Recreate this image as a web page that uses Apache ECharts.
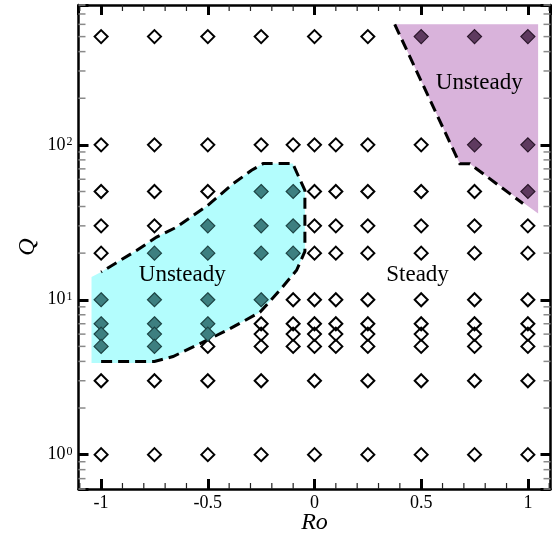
<!DOCTYPE html>
<html>
<head>
<meta charset="utf-8">
<script src="https://cdn.jsdelivr.net/npm/echarts@6/dist/echarts.min.js"></script>
<style>html,body{margin:0;padding:0;background:#fff}#c{width:556px;height:540px}</style>
</head>
<body>
<div id="c"></div>
<script>
// ---------- data ----------
const xTickLabels = ['-1', '-0.5', '0', '0.5', '1'];
const steadyPoints = [
  [-1,500],[-1,100],[-1,50],[-1,30],[-1,20],[-1,3],[-1,1],
  [-0.75,500],[-0.75,100],[-0.75,50],[-0.75,30],[-0.75,3],[-0.75,1],
  [-0.5,500],[-0.5,100],[-0.5,50],[-0.5,5],[-0.5,3],[-0.5,1],
  [-0.25,500],[-0.25,100],[-0.25,7],[-0.25,6],[-0.25,5],[-0.25,3],[-0.25,1],
  [-0.1,100],[-0.1,10],[-0.1,7],[-0.1,6],[-0.1,5],
  [0,500],[0,100],[0,50],[0,30],[0,20],[0,10],[0,7],[0,6],[0,5],[0,3],[0,1],
  [0.1,100],[0.1,50],[0.1,30],[0.1,20],[0.1,10],[0.1,7],[0.1,6],[0.1,5],
  [0.25,500],[0.25,100],[0.25,50],[0.25,30],[0.25,20],[0.25,10],[0.25,7],[0.25,6],[0.25,5],[0.25,3],[0.25,1],
  [0.5,100],[0.5,50],[0.5,30],[0.5,20],[0.5,10],[0.5,7],[0.5,6],[0.5,5],[0.5,3],[0.5,1],
  [0.75,50],[0.75,30],[0.75,20],[0.75,10],[0.75,7],[0.75,6],[0.75,5],[0.75,3],[0.75,1],
  [1,30],[1,20],[1,10],[1,7],[1,6],[1,5],[1,3],[1,1]
];
const unsteadyLowPoints = [
  [-1,10],[-1,7],[-1,6],[-1,5],
  [-0.75,20],[-0.75,10],[-0.75,7],[-0.75,6],[-0.75,5],
  [-0.5,30],[-0.5,20],[-0.5,10],[-0.5,7],[-0.5,6],
  [-0.25,50],[-0.25,30],[-0.25,20],[-0.25,10],
  [-0.1,50],[-0.1,30],[-0.1,20]
];
const unsteadyHighPoints = [
  [0.5,500],[0.75,500],[0.75,100],[1,500],[1,100],[1,50]
];
// region boundaries (Ro, Q)
const cyanBoundary = [
  [-1.0,4.0],[-0.75,4.0],[-0.663,4.3],[-0.506,5.46],[-0.397,6.5],[-0.256,8.3],
  [-0.163,11.5],[-0.084,15.5],[-0.045,20.5],[-0.045,50.8],[-0.102,75.7],
  [-0.241,75.7],[-0.295,68.5],[-0.381,56.2],[-0.5,40.7],[-0.647,29.4],
  [-0.74,25.4],[-0.834,20.8],[-1.0,15.1]
];
const cyanRegion = [
  [-1.045,3.9],[-0.75,3.9],[-0.663,4.3],[-0.506,5.46],[-0.397,6.5],[-0.256,8.3],
  [-0.163,11.5],[-0.084,15.5],[-0.045,20.5],[-0.045,50.8],[-0.102,75.7],
  [-0.241,75.7],[-0.295,68.5],[-0.381,56.2],[-0.5,40.7],[-0.647,29.4],
  [-0.74,25.4],[-0.834,20.8],[-1.0,15.1],[-1.045,14.0]
];
const purpleBoundary = [
  [0.376,600],[0.681,75.5],[0.728,75.5],[0.977,41.8]
];
const purpleRegion = [
  [0.376,600],[1.048,600],[1.048,36.1],[0.728,75.5],[0.681,75.5]
];
const regionLabels = [
  [-0.62,14.4,'Unsteady'],[0.483,14.4,'Steady'],[0.772,252,'Unsteady']
];
const xMinorTicks = [-1.1,-0.9,-0.8,-0.7,-0.6,-0.4,-0.3,-0.2,-0.1,0.1,0.2,0.3,0.4,0.6,0.7,0.8,0.9,1.1];
const yMinorTicks = [0.6,0.7,0.8,0.9,2,3,4,5,6,7,8,9,20,30,40,50,60,70,80,90,200,300,400,500,600,700,800];
const X_MIN = -1.106, X_MAX = 1.106, Y_MIN = 0.6, Y_MAX = 800;

// ---------- chart ----------
const FONT = '"Liberation Serif", "Times New Roman", serif';
const chart = echarts.init(document.getElementById('c'), null, {renderer: 'canvas'});
const isPow10 = v => { const l = Math.log10(v); return Math.abs(l - Math.round(l)) < 1e-6; };
const xLabel = v => {
  const s = String(Math.round(v * 100) / 100);
  return xTickLabels.indexOf(s) >= 0 ? s : '';
};
const yLabel = v => isPow10(v) ? '{b|10}{s|' + Math.round(Math.log10(v)) + '}' : '';

const majorTick = {show: true, inside: true, length: 10, lineStyle: {color: '#000', width: 3}};
const axisLine = {show: true, onZero: false, lineStyle: {color: '#000', width: 2.5}};

const option = {
  animation: false,
  grid: {left: 78.5, right: 5.5, top: 5, bottom: 51, containLabel: false, outerBoundsMode: 'none'},
  xAxis: [
    {type: 'value', min: X_MIN, max: X_MAX, position: 'bottom',
     axisLine: axisLine, axisTick: majorTick, splitLine: {show: false},
     axisLabel: {formatter: xLabel, margin: 5, color: '#000', fontSize: 18, fontFamily: FONT,
                 showMinLabel: false, showMaxLabel: false},
     name: 'Ro', nameLocation: 'middle', nameGap: 22, nameMoveOverlap: false,
     nameTextStyle: {fontSize: 24, fontStyle: 'italic', fontFamily: FONT, color: '#000'}},
    {type: 'value', min: X_MIN, max: X_MAX, position: 'top',
     axisLine: axisLine, axisTick: majorTick, splitLine: {show: false}, axisLabel: {show: false}}
  ],
  yAxis: [
    {type: 'log', logBase: 10, min: Y_MIN, max: Y_MAX, position: 'left',
     axisLine: axisLine, axisTick: majorTick, splitLine: {show: false}, minorTick: {show: false},
     axisLabel: {formatter: yLabel, margin: 6, color: '#000', fontFamily: FONT,
       rich: {b: {fontSize: 18, fontFamily: FONT, color: '#000'},
              s: {fontSize: 12, fontFamily: FONT, color: '#000', verticalAlign: 'top', padding: [0,0,0,1]}}},
     name: 'Q', nameLocation: 'middle', nameGap: 39, nameRotate: 90, nameMoveOverlap: false,
     nameTextStyle: {fontSize: 24, fontStyle: 'italic', fontFamily: FONT, color: '#000'}},
    {type: 'log', logBase: 10, min: Y_MIN, max: Y_MAX, position: 'right',
     axisLine: axisLine, axisTick: majorTick, splitLine: {show: false}, axisLabel: {show: false}}
  ],
  series: [
    {type: 'custom', z: 1, silent: true, data: [[0, 1]],
     renderItem: (params, api) => ({type: 'group', children: [
       {type: 'polygon', shape: {points: cyanRegion.map(p => api.coord(p))}, style: {fill: '#b3fdfd'}},
       {type: 'polygon', shape: {points: purpleRegion.map(p => api.coord(p))}, style: {fill: '#d9b3db'}}
     ]})},
    {type: 'custom', z: 2, silent: true, data: [[0, 1]],
     renderItem: (params, api) => ({type: 'group', children: [
       {type: 'polyline', shape: {points: cyanBoundary.map(p => api.coord(p))},
        style: {stroke: '#000', lineWidth: 3, lineDash: [11, 6], fill: null}},
       {type: 'polyline', shape: {points: purpleBoundary.map(p => api.coord(p))},
        style: {stroke: '#000', lineWidth: 3, lineDash: [11, 6], fill: null}}
     ]})},
    {type: 'custom', z: 5, silent: true, clip: false,
     data: xMinorTicks.map(v => [v, Y_MIN]),
     renderItem: (params, api) => {
       const v = api.value(0);
       const a = api.coord([v, Y_MIN]), b = api.coord([v, Y_MAX]);
       return {type: 'group', children: [
         {type: 'line', shape: {x1: a[0], y1: a[1], x2: a[0], y2: a[1] - 6}, style: {stroke: '#222', lineWidth: 1.2}},
         {type: 'line', shape: {x1: b[0], y1: b[1], x2: b[0], y2: b[1] + 6}, style: {stroke: '#222', lineWidth: 1.2}}
       ]};
     }},
    {type: 'custom', z: 5, silent: true, clip: false,
     data: yMinorTicks.map(v => [X_MIN, v]),
     renderItem: (params, api) => {
       const v = api.value(1);
       const a = api.coord([X_MIN, v]), b = api.coord([X_MAX, v]);
       return {type: 'group', children: [
         {type: 'line', shape: {x1: a[0], y1: a[1], x2: a[0] + 7, y2: a[1]}, style: {stroke: '#8a8a8a', lineWidth: 1.5}},
         {type: 'line', shape: {x1: b[0], y1: b[1], x2: b[0] - 7, y2: b[1]}, style: {stroke: '#8a8a8a', lineWidth: 1.5}}
       ]};
     }},
    {type: 'scatter', z: 3, symbol: 'diamond', symbolSize: 13, data: steadyPoints,
     itemStyle: {color: 'rgba(0,0,0,0)', borderColor: '#000', borderWidth: 2, opacity: 1}},
    {type: 'scatter', z: 3, symbol: 'diamond', symbolSize: 14, data: unsteadyLowPoints,
     itemStyle: {color: '#3d7f80', borderColor: '#1d4444', borderWidth: 1.2, opacity: 1}},
    {type: 'scatter', z: 3, symbol: 'diamond', symbolSize: 14, data: unsteadyHighPoints,
     itemStyle: {color: '#5e3a5f', borderColor: '#2a162a', borderWidth: 1.2, opacity: 1}},
    {type: 'custom', z: 4, silent: true, data: regionLabels,
     renderItem: (params, api) => {
       const d = regionLabels[params.dataIndex];
       const p = api.coord([d[0], d[1]]);
       return {type: 'text', x: p[0], y: p[1],
         style: {text: d[2], fill: '#000', fontSize: 23, fontFamily: FONT, align: 'center', verticalAlign: 'middle'}};
     }}
  ]
};
chart.setOption(option);
</script>
</body>
</html>
